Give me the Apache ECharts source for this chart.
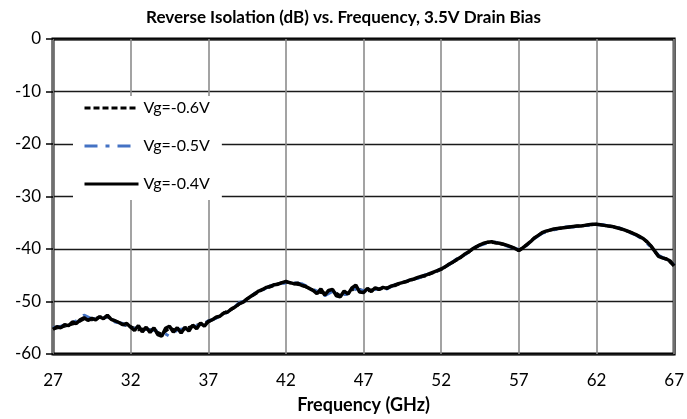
<!DOCTYPE html>
<html>
<head>
<meta charset="utf-8">
<script src="https://cdn.jsdelivr.net/npm/echarts@6/dist/echarts.min.js"></script>
<style>
  html, body { margin: 0; padding: 0; background: #fff; }
  #main { width: 687px; height: 419px; }
</style>
</head>
<body>
<div id="main"></div>
<script>
// frequency sampling (GHz)
const freqStart = 27;
const fineStep = 0.25;   // Vg=-0.4V trace
const coarseStep = 0.5;  // Vg=-0.6V and Vg=-0.5V traces

const seriesNames = ["Vg=-0.6V", "Vg=-0.5V", "Vg=-0.4V"];
const xTicks = [27, 32, 37, 42, 47, 52, 57, 62, 67];
const yTicks = [0, -10, -20, -30, -40, -50, -60];

// Vg=-0.6V, every 0.5 GHz from 27 to 67
const vg06 = [
  -55.2, -54.9, -54.5, -54.1, -53.3, -53.5, -53.0, -52.9, -53.7, -54.4,
  -54.8, -55.4, -55.2, -55.6, -56.2, -55.1, -55.6, -55.2, -54.7, -54.3,
  -53.9, -53.1, -52.2, -51.5, -50.5, -49.5, -48.6, -47.7, -47.2, -46.6,
  -46.3, -46.6, -46.9, -47.5, -48.2, -48.4, -47.9, -48.9, -48.4, -47.3,
  -48.1, -47.8, -47.6, -47.4, -47.0, -46.4, -46.0, -45.5, -45.1, -44.5,
  -43.9, -42.9, -42.1, -41.1, -40.1, -39.2, -38.7, -38.8, -39.1, -39.6,
  -40.3, -39.2, -37.9, -36.9, -36.4, -36.1, -35.9, -35.7, -35.6, -35.4,
  -35.3, -35.5, -35.7, -36.1, -36.6, -37.2, -38.0, -39.4, -41.4, -41.9,
  -43.2
];

// Vg=-0.5V, every 0.5 GHz from 27 to 67
const vg05 = [
  -55.0, -54.7, -54.3, -53.7, -52.6, -53.3, -53.1, -53.0, -53.9, -54.2,
  -55.2, -55.0, -55.3, -55.5, -55.8, -56.6, -55.4, -55.2, -54.9, -54.4,
  -53.7, -53.2, -52.4, -51.6, -50.2, -49.8, -48.4, -47.8, -47.0, -46.7,
  -46.5, -46.4, -46.6, -47.3, -48.0, -48.9, -48.1, -48.7, -48.6, -47.6,
  -47.9, -48.0, -47.4, -47.6, -46.8, -46.6, -45.8, -45.6, -44.9, -44.6,
  -43.7, -43.0, -41.9, -41.2, -39.9, -39.3, -38.8, -38.7, -39.2, -39.7,
  -40.1, -39.3, -38.0, -37.0, -36.5, -36.2, -35.8, -35.8, -35.5, -35.5,
  -35.4, -35.4, -35.8, -36.0, -36.7, -37.3, -38.2, -39.6, -41.2, -42.0,
  -43.0
];

// Vg=-0.4V, every 0.25 GHz from 27 to 67 (one GHz per line)
const vg04 = [
  -55.3, -54.8, -55.0, -54.4,
  -54.6, -53.9, -54.2, -53.5,
  -53.1, -53.6, -53.2, -53.5,
  -52.9, -53.3, -52.6, -53.4,
  -53.7, -54.0, -54.4, -54.2,
  -54.9, -55.5, -54.6, -55.8,
  -54.9, -55.9, -55.0, -56.3,
  -56.6, -55.1, -54.7, -55.8,
  -55.0, -56.0, -54.9, -55.6,
  -54.5, -55.2, -54.1, -54.7,
  -53.8, -53.5, -53.0, -52.8,
  -52.2, -52.0, -51.4, -51.0,
  -50.4, -50.1, -49.5, -49.0,
  -48.5, -48.0, -47.7, -47.3,
  -47.1, -46.8, -46.7, -46.4,
  -46.2, -46.4, -46.6, -46.5,
  -46.9, -47.1, -47.5, -47.9,
  -48.5, -47.6, -48.8, -47.9,
  -47.7, -48.9, -49.1, -48.0,
  -48.6, -47.4, -46.9, -48.2,
  -48.3, -47.5, -48.1, -47.4,
  -47.7, -47.3, -47.5, -47.1,
  -46.9, -46.6, -46.4, -46.2,
  -45.9, -45.7, -45.4, -45.2,
  -45.0, -44.7, -44.4, -44.1,
  -43.8, -43.4, -42.9, -42.5,
  -42.0, -41.6, -41.0, -40.6,
  -40.0, -39.6, -39.2, -38.9,
  -38.7, -38.6, -38.8, -38.9,
  -39.1, -39.3, -39.6, -39.9,
  -40.3, -39.8, -39.2, -38.6,
  -37.9, -37.4, -36.9, -36.6,
  -36.4, -36.2, -36.1, -36.0,
  -35.9, -35.8, -35.7, -35.6,
  -35.6, -35.5, -35.4, -35.3,
  -35.3, -35.4, -35.5, -35.6,
  -35.7, -35.9, -36.1, -36.3,
  -36.6, -36.9, -37.2, -37.6,
  -38.0, -38.6, -39.4, -40.4,
  -41.4, -41.7, -41.9, -42.3,
  -43.2
];

function pairs(values, step) {
  return values.map((v, i) => [freqStart + i * step, v]);
}

const font = "Lato, 'Open Sans', sans-serif";

const myChart = echarts.init(document.getElementById("main"));

const option = {
  animation: false,
  backgroundColor: "#fff",
  title: {
    text: "Reverse Isolation (dB) vs. Frequency, 3.5V Drain Bias",
    left: "center",
    top: 4,
    textStyle: { fontFamily: font, fontSize: 17, fontWeight: "bold", color: "#000" },
  },
  legend: {
    orient: "vertical",
    left: 73,
    top: 96,
    padding: [4, 12, 8, 10],
    itemWidth: 54,
    itemHeight: 14,
    itemGap: 22,
    backgroundColor: "#fff",
    // line-only legend icons, hide the marker dot
    itemStyle: { color: "transparent", borderWidth: 0, opacity: 0 },
    lineStyle: { width: 3 },
    textStyle: { fontFamily: font, fontSize: 16, color: "#000" },
    data: seriesNames,
  },
  grid: {
    left: 53,
    right: 11,
    top: 39,
    bottom: 64,
    show: true,
    borderColor: "#000",
    borderWidth: 3,
  },
  xAxis: {
    type: "value",
    min: xTicks[0],
    max: xTicks[xTicks.length - 1],
    interval: 5,
    name: "Frequency (GHz)",
    nameLocation: "middle",
    nameGap: 42,
    nameTextStyle: { fontFamily: font, fontSize: 18, fontWeight: "bold", color: "#000" },
    axisLine: { show: false },
    axisTick: { show: false },
    axisLabel: { fontFamily: font, fontSize: 17, color: "#000", margin: 18 },
    splitLine: { show: true, lineStyle: { color: "#8c8c8c", width: 1.6 } },
  },
  yAxis: {
    type: "value",
    min: yTicks[yTicks.length - 1],
    max: yTicks[0],
    interval: 10,
    axisLine: { show: false },
    axisTick: { show: true, length: 7, lineStyle: { color: "#000", width: 1.5 } },
    axisLabel: { fontFamily: font, fontSize: 17, color: "#000", margin: 12 },
    splitLine: { show: true, lineStyle: { color: "#1a1a1a", width: 1.3 } },
  },
  series: [
    {
      name: seriesNames[0],
      type: "line",
      symbol: "none",
      data: pairs(vg06, coarseStep),
      lineStyle: { color: "#000", width: 3, type: [6, 3] },
      itemStyle: { color: "#000" },
    },
    {
      name: seriesNames[1],
      type: "line",
      symbol: "none",
      data: pairs(vg05, coarseStep),
      lineStyle: { color: "#4472C4", width: 3, type: [13, 8, 4, 8] },
      itemStyle: { color: "#4472C4" },
    },
    {
      name: seriesNames[2],
      type: "line",
      symbol: "none",
      data: pairs(vg04, fineStep),
      lineStyle: { color: "#000", width: 3.5 },
      itemStyle: { color: "#000" },
    },
  ],
};

myChart.setOption(option);
</script>
</body>
</html>
